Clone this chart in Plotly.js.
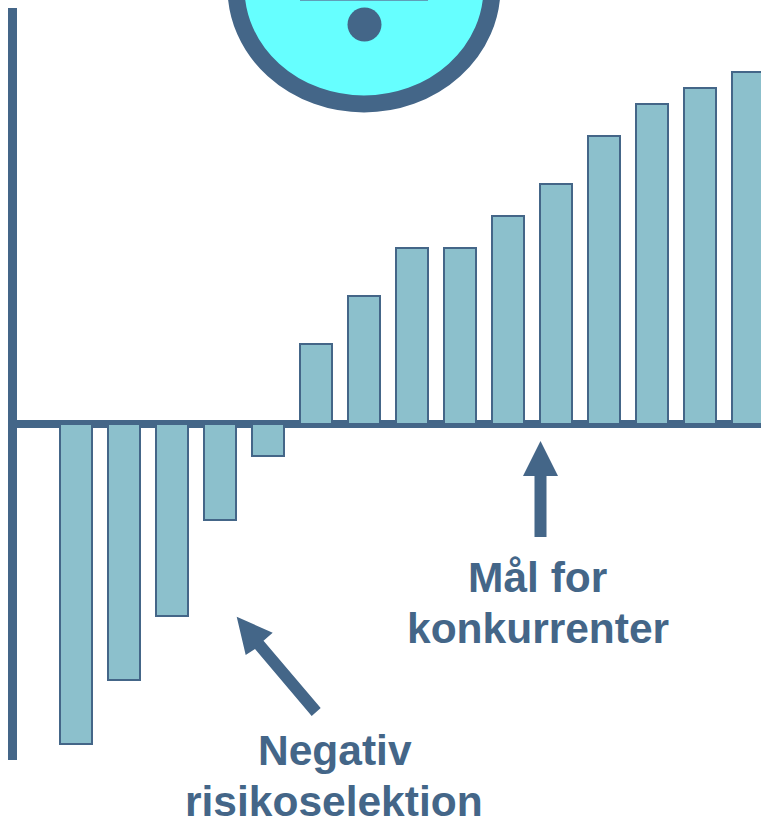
<!DOCTYPE html>
<html>
<head>
<meta charset="utf-8">
<script src="https://cdn.plot.ly/plotly-3.0.1.min.js"></script>
<style>
  html, body { margin: 0; padding: 0; background: #fff; overflow: hidden; }
  #chart { width: 761px; height: 820px; }
</style>
</head>
<body>
<div id="chart"></div>
<script>
// Risk profile per customer group: values below zero are adverse selection.
const groups = [1, 2, 3, 4, 5, 6, 7, 8, 9, 10, 11, 12, 13, 14, 15];
const margins = [-20, -16, -12, -6, -2, 5, 8, 11, 11, 13, 15, 18, 20, 21, 22];
const labelNegative = ["Negativ", "risikoselektion"];
const labelTarget = ["Mål for", "konkurrenter"];

const W = 761, H = 820;
const INK = "#446688";
const BAR = "#8CC0CC";
const FACE = "#66FFFF";

// Pixel helpers for the decorative shapes laid over the page.
const px = v => v / W;
const py = v => 1 - v / H;
const poly = pts => "M" + pts.map(p => px(p[0]) + "," + py(p[1])).join("L") + "Z";
const pageShape = extra => Object.assign({ xref: "paper", yref: "paper" }, extra);

const shapes = [
  // y axis and baseline
  pageShape({ type: "line", x0: px(12.5), x1: px(12.5), y0: py(8), y1: py(760), layer: "below",
    line: { color: INK, width: 9 } }),
  { type: "line", xref: "paper", yref: "y", x0: px(12), x1: 1, y0: 0, y1: 0, layer: "below",
    line: { color: INK, width: 8 } },
  // smiley-like face running off the top edge
  pageShape({ type: "circle", x0: px(236), x1: px(492), y0: py(-128), y1: py(104),
    fillcolor: FACE, line: { color: INK, width: 17 } }),
  pageShape({ type: "rect", x0: px(300), x1: px(428), y0: py(-2), y1: py(1),
    fillcolor: "#5F9FB8", line: { width: 0 } }),
  pageShape({ type: "circle", x0: px(347.5), x1: px(381.5), y0: py(7.5), y1: py(41.5),
    fillcolor: INK, line: { width: 0 } }),
  // arrow towards the competitors' target
  pageShape({ type: "path", fillcolor: INK, line: { width: 0 },
    path: poly([[540.5, 441], [558, 476], [546.5, 476], [546.5, 537], [534.5, 537], [534.5, 476], [523, 476]]) }),
  // arrow towards the adverse selection bars
  pageShape({ type: "path", fillcolor: INK, line: { width: 0 },
    path: poly([[236.7, 616.7], [272.7, 632.7], [263.5, 640.7], [320.7, 708], [311.7, 716], [255, 649], [245.7, 655]]) })
];

const textLine = (text, x, y) => ({
  text: "<b>" + text + "</b>",
  xref: "paper", yref: "paper",
  x: px(x), y: py(y),
  xanchor: "center", yanchor: "middle",
  showarrow: false,
  font: { family: "Liberation Sans, Arial, sans-serif", size: 42.5, color: INK }
});

const annotations = [
  textLine(labelTarget[0], 537.5, 577),
  textLine(labelTarget[1], 537.5, 628),
  textLine(labelNegative[0], 334.5, 750),
  textLine(labelNegative[1], 334, 801)
];

const trace = {
  type: "bar",
  x: groups,
  y: margins,
  width: 32 / 48,
  marker: { color: BAR, line: { color: INK, width: 2 } },
  hoverinfo: "skip"
};

const layout = {
  width: W,
  height: H,
  margin: { l: 0, r: 0, t: 0, b: 0, pad: 0 },
  paper_bgcolor: "#ffffff",
  plot_bgcolor: "#ffffff",
  showlegend: false,
  // one group every 48 px, one unit every 16 px
  xaxis: { range: [1 - 76 / 48, 1 + (W - 76) / 48], visible: false, fixedrange: true },
  yaxis: { range: [-(H - 424) / 16, 424 / 16], visible: false, fixedrange: true, zeroline: false },
  shapes: shapes,
  annotations: annotations
};

Plotly.newPlot("chart", [trace], layout, { displayModeBar: false, staticPlot: true });
</script>
</body>
</html>
